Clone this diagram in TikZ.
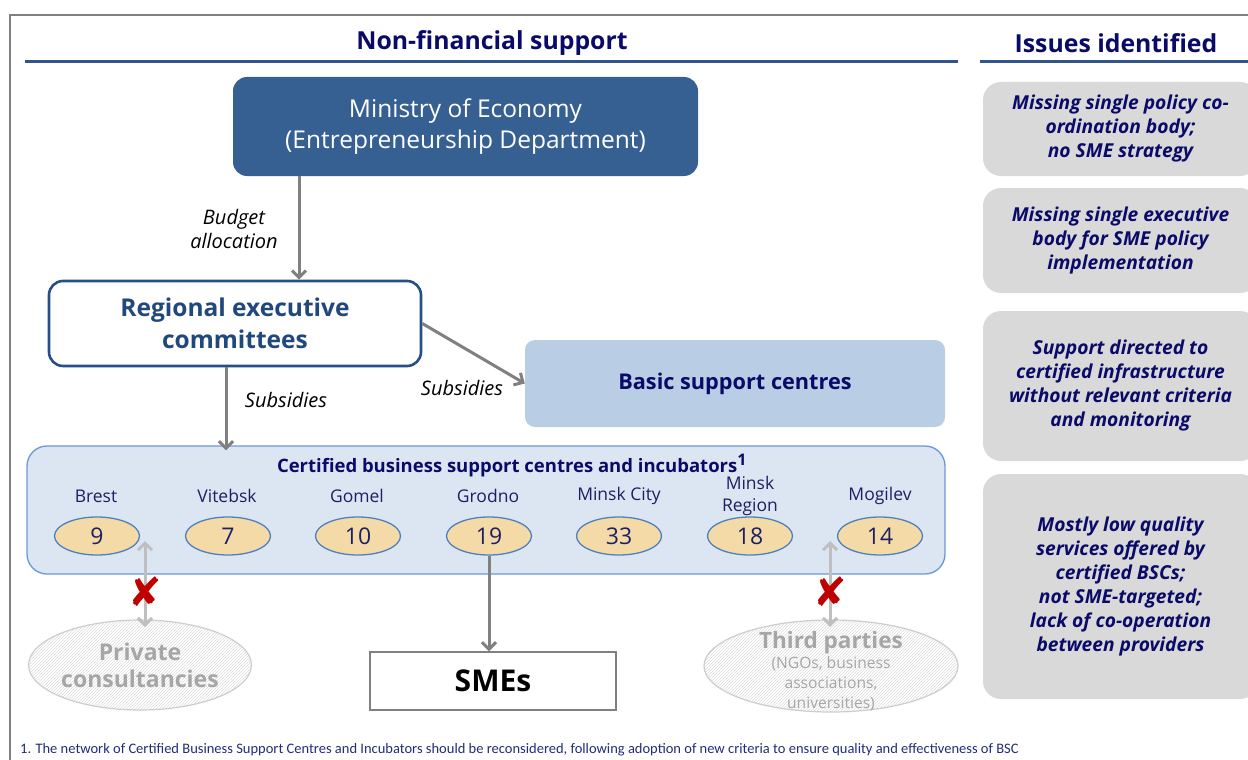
\documentclass[tikz,border=0pt]{standalone}
\usepackage{fontspec}
\setmainfont{Open Sans}
\newfontfamily\notefont{Carlito}
\newfontfamily\symfont{DejaVu Sans}
\usetikzlibrary{arrows.meta,patterns,shapes.geometric}

\definecolor{navy}{RGB}{10,10,105}
\definecolor{regionnavy}{RGB}{30,30,100}
\definecolor{minfill}{RGB}{54,96,146}
\definecolor{regline}{RGB}{38,78,135}
\definecolor{regtext}{RGB}{33,72,125}
\definecolor{basicfill}{RGB}{185,205,229}
\definecolor{certfill}{RGB}{220,230,242}
\definecolor{certline}{RGB}{105,152,215}
\definecolor{ovalfill}{RGB}{244,218,166}
\definecolor{ovalline}{RGB}{79,129,189}
\definecolor{rulecol}{RGB}{47,85,140}
\definecolor{issuefill}{RGB}{217,217,217}
\definecolor{arrowgray}{RGB}{128,128,128}
\definecolor{lightgray}{RGB}{191,191,191}
\definecolor{ghosttext}{RGB}{166,166,166}
\definecolor{ghostline}{RGB}{205,205,205}
\definecolor{hatchcol}{RGB}{222,222,222}
\definecolor{crossred}{RGB}{192,0,0}
\definecolor{framegray}{RGB}{128,128,128}
\definecolor{notecol}{RGB}{35,45,120}

\tikzset{
  fs/.style 2 args={font=\fontsize{#1}{#2}\selectfont},
  heading/.style={font=\bfseries\fontsize{24.8}{28}\selectfont, text=navy},
  rulebar/.style={draw=rulecol, line width=3pt},
  barb/.tip={Straight Barb[length=7pt,width=14pt,line width=3pt]},
  flow/.style={draw=arrowgray, line width=3pt, -barb},
  blocked/.style={draw=lightgray, line width=3pt, barb-barb},
  flowlabel/.style={font=\itshape\fontsize{20}{24}\selectfont, align=center},
  region/.style={font=\fontsize{17.5}{22}\selectfont, text=regionnavy, align=center},
  count/.style={ellipse, draw=ovalline, line width=1.3pt, fill=ovalfill, minimum width=85pt, minimum height=38pt, inner sep=0pt, font=\fontsize{23}{23}\selectfont, text=regionnavy},
  issue/.style={rectangle, rounded corners=18pt, fill=issuefill, minimum width=275pt, inner sep=0pt, align=center, text=navy, font=\bfseries\itshape\fontsize{19.2}{24}\selectfont},
  ghost/.style={ellipse, draw=ghostline, line width=1.2pt, pattern=north east lines, pattern color=hatchcol, inner sep=0pt, text=ghosttext, align=center},
  cross/.style={text=crossred, font=\symfont\fontsize{40}{40}\selectfont, inner sep=0pt}
}

\begin{document}
\begin{tikzpicture}[x=1pt, y=-1pt]
\useasboundingbox (0,0) rectangle (1248,760);
\clip (0,0) rectangle (1248,760);
\fill[white] (0,0) rectangle (1248,760);

% outer frame
\draw[framegray, line width=2pt] (1260,15) -- (10,15) -- (10,780);

% column headings
\node[heading] (hnf) at (492,43) {Non-financial support};
\node[heading] (hiss) at (1116,43) {Issues identified};
\draw[rulebar] (25,62) -- (958,62);
\draw[rulebar] (980,62) -- (1260,62);

% ministry
\node[rectangle, rounded corners=14pt, fill=minfill, minimum width=465pt, minimum height=99pt,
      text=white, align=center, fs={24.5}{31}] (min) at (465.5,126.5)
      {Ministry of Economy\\(Entrepreneurship Department)};

% regional executive committees
\node[rectangle, rounded corners=14pt, draw=regline, line width=2.6pt, fill=white,
      minimum width=372pt, minimum height=85pt, text=regtext, align=center,
      font=\bfseries\fontsize{24.5}{32}\selectfont] (reg) at (235,323.5)
      {Regional executive\\committees};

% basic support centres
\node[rectangle, rounded corners=10pt, fill=basicfill, minimum width=420pt, minimum height=87pt,
      text=navy, font=\bfseries\fontsize{21.7}{24}\selectfont] (basic) at (735,383.5)
      {Basic support centres};

% certified centres and incubators
\node[rectangle, rounded corners=20pt, draw=certline, line width=1.3pt, fill=certfill,
      minimum width=918pt, minimum height=128pt] (cert) at (486,510) {};
\node[text=navy, font=\bfseries\fontsize{18.5}{20}\selectfont] (certt) at (512,465.5)
      {Certified business support centres and incubators\textsuperscript{\fontsize{16}{16}\selectfont 1}};

\node[region] (lbrest) at (96,496) {Brest};
\node[region] (lvit) at (227,496) {Vitebsk};
\node[region] (lgom) at (357,496) {Gomel};
\node[region] (lgro) at (488,496) {Grodno};
\node[region] (lmc) at (619,496) {Minsk City};
\node[region] (lmr) at (750,496) {Minsk\\Region};
\node[region] (lmog) at (880,496) {Mogilev};

\node[count] (c9)  at (97,536)  {9};
\node[count] (c7)  at (228,536) {7};
\node[count] (c10) at (358,536) {10};
\node[count] (c19) at (489,536) {19};
\node[count] (c33) at (619,536) {33};
\node[count] (c18) at (750,536) {18};
\node[count] (c14) at (880,536) {14};

% SMEs
\node[rectangle, draw=arrowgray, line width=1.3pt, fill=white, minimum width=246pt,
      minimum height=58pt, font=\bfseries\fontsize{30}{30}\selectfont] (sme) at (493,681) {SMEs};

% providers outside the network
\node[ghost, minimum width=220pt, minimum height=90pt, font=\bfseries\fontsize{23}{27}\selectfont]
      (priv) at (140,665) {Private\\consultancies};
\node[ghost, minimum width=254pt, minimum height=92pt] (third) at (831,666) {};
\node[text=ghosttext, align=center, font=\fontsize{15.6}{20}\selectfont] (thirdt) at (831,671)
      {{\bfseries\fontsize{22.5}{24}\selectfont Third parties}\\(NGOs, business\\associations,\\universities)};

% flows
\draw[flow] ([xshift=-166.5pt]min.south) -- ([xshift=-166.5pt]min.south |- reg.north);
\node[flowlabel] (lbud) at (234,229) {Budget\\allocation};

\draw[flow] ([xshift=-9pt]reg.south) -- ([xshift=-9pt,yshift=-5pt]reg.south |- cert.north);
\node[flowlabel] (lsub1) at (286,400) {Subsidies};

\draw[flow] (reg.east) -- (basic.west);
\node[flowlabel] (lsub2) at (462,388) {Subsidies};

\draw[flow] (c19.south) -- (c19.south |- sme.north);

% missing links
\coordinate (ptop) at (145,541);
\coordinate (pbot) at (145,627);
\draw[blocked] (ptop) -- (pbot);
\node[cross] (x1) at (145,592) {✘};

\coordinate (ttop) at (830,541);
\coordinate (tbot) at (830,627);
\draw[blocked] (ttop) -- (tbot);
\node[cross] (x2) at (830,592) {✘};

% issues column
\node[issue, minimum height=94pt] (i1) at (1120.5,129)
  {Missing single policy co-\\ordination body;\\no SME strategy};
\node[issue, minimum height=105pt] (i2) at (1120.5,240.5)
  {Missing single executive\\body for SME policy\\implementation};
\node[issue, minimum height=150pt] (i3) at (1120.5,386)
  {Support directed to\\certified infrastructure\\without relevant criteria\\and monitoring};
\node[issue, minimum height=225pt] (i4) at (1120.5,586.5)
  {Mostly low quality\\services offered by\\certified BSCs;\\not SME-targeted;\\lack of co-operation\\between providers};

% footnote
\node[anchor=west, inner sep=0pt, text=notecol, font=\notefont\fontsize{14.5}{16}\selectfont] (note) at (20,750)
  {1. The network of Certified Business Support Centres and Incubators should be reconsidered, following adoption of new criteria to ensure quality and effectiveness of BSC};
\end{tikzpicture}
\end{document}
